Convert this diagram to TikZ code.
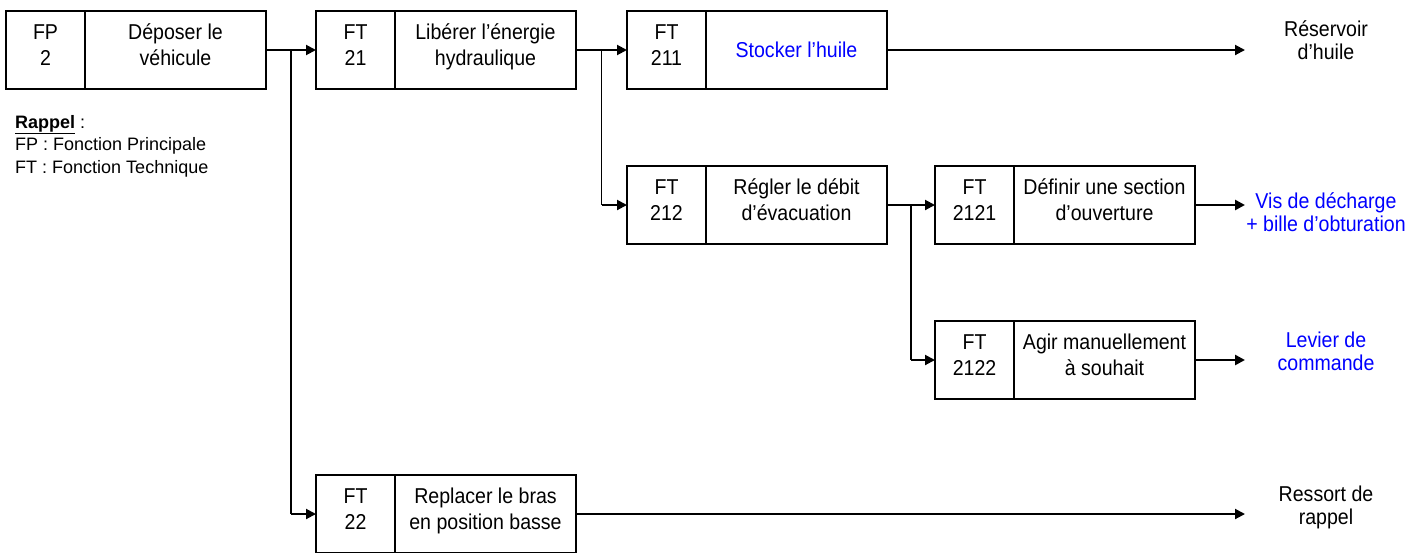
\documentclass[tikz,border=0pt]{standalone}
\usepackage{fontspec}
\setmainfont{Liberation Sans}
\usepackage{graphicx}
\usetikzlibrary{arrows.meta,calc}

% text block, centred lines, baseline on the first line, slightly condensed
\newcommand\celltext[1]{\scalebox{0.91}[1]{\begin{tabular}[t]{@{}c@{}}#1\end{tabular}}}

\definecolor{pureblue}{RGB}{0,0,255}

\tikzset{
  cell/.style={draw, line width=2pt, minimum height=78pt, inner sep=0pt,
               outer sep=0pt, anchor=north west},
  numcell/.style={cell, minimum width=79pt},
  txtcell/.style={cell, minimum width=181pt},
  boxfont/.style={font=\fontsize{21.5}{26}\selectfont, inner sep=0pt, anchor=base},
  lblfont/.style={font=\fontsize{21.5}{23}\selectfont, inner sep=0pt, anchor=base},
  feed/.style={line width=2pt, -{Triangle[length=10pt,width=10pt]}},
  branch/.style={line width=1.2pt},
  result/.style={line width=2pt, -{Triangle[length=10pt,width=10pt]}},
  resultbold/.style={line width=2.8pt, -{Triangle[length=10pt,width=10pt]}},
}

\begin{document}
\begin{tikzpicture}[x=1pt,y=-1pt]
\useasboundingbox (0,0) rectangle (1426,552);
\fill[white] (0,0) rectangle (1426,552);

% ---- function boxes: number cell + wording cell
\node[numcell] (fp2n)  at (6,11) {};
\node[txtcell] (fp2t)  at (85,11) {};
\node[numcell] (ft21n) at (316,11) {};
\node[txtcell] (ft21t) at (395,11) {};
\node[numcell] (ft211n) at (627,11) {};
\node[txtcell] (ft211t) at (706,11) {};
\node[numcell] (ft212n) at (627,166) {};
\node[txtcell] (ft212t) at (706,166) {};
\node[numcell] (ft2121n) at (935,166) {};
\node[txtcell] (ft2121t) at (1014,166) {};
\node[numcell] (ft2122n) at (935,321) {};
\node[txtcell] (ft2122t) at (1014,321) {};
\node[numcell] (ft22n) at (316,475) {};
\node[txtcell] (ft22t) at (395,475) {};

% ---- box wording
\node[boxfont] (fp2a)  at ([yshift=-28pt]fp2n.north) {\celltext{FP\\2}};
\node[boxfont] (fp2b)  at ([yshift=-28pt]fp2t.north) {\celltext{Déposer le\\véhicule}};
\node[boxfont] (ft21a) at ([yshift=-28pt]ft21n.north) {\celltext{FT\\21}};
\node[boxfont] (ft21b) at ([yshift=-28pt]ft21t.north) {\celltext{Libérer l’énergie\\hydraulique}};
\node[boxfont] (ft211a) at ([yshift=-28pt]ft211n.north) {\celltext{FT\\211}};
\node[boxfont, text=pureblue] (ft211b) at ([yshift=-7pt]ft211t.center) {\celltext{Stocker l’huile}};
\node[boxfont] (ft212a) at ([yshift=-28pt]ft212n.north) {\celltext{FT\\212}};
\node[boxfont] (ft212b) at ([yshift=-28pt]ft212t.north) {\celltext{Régler le débit\\d’évacuation}};
\node[boxfont] (ft2121a) at ([yshift=-28pt]ft2121n.north) {\celltext{FT\\2121}};
\node[boxfont] (ft2121b) at ([yshift=-28pt]ft2121t.north) {\celltext{Définir une section\\d’ouverture}};
\node[boxfont] (ft2122a) at ([yshift=-28pt]ft2122n.north) {\celltext{FT\\2122}};
\node[boxfont] (ft2122b) at ([yshift=-28pt]ft2122t.north) {\celltext{Agir manuellement\\à souhait}};
\node[boxfont] (ft22a) at ([yshift=-28pt]ft22n.north) {\celltext{FT\\22}};
\node[boxfont] (ft22b) at ([yshift=-28pt]ft22t.north) {\celltext{Replacer le bras\\en position basse}};

% ---- reminder
\node[anchor=base west, inner sep=0pt, font=\fontsize{18}{22.5}\selectfont] (rappel) at (15,128)
  {\begin{tabular}[t]{@{}l@{}}\underline{\textbf{Rappel}} :\\FP : Fonction Principale\\FT : Fonction Technique\end{tabular}};

% ---- branching points
\coordinate (j1) at ($(fp2t.east)!0.5!(ft21n.west)$);
\coordinate (j2) at ($(ft21t.east)!0.5!(ft211n.west)$);
\coordinate (j3) at ($(ft212t.east)!0.5!(ft2121n.west)$);

% ---- decomposition connectors
\draw[feed] (fp2t.east) -- (ft21n.west);
\draw[branch] (j1) -- (j1 |- ft22n.west);
\draw[feed] (j1 |- ft22n.west) -- (ft22n.west);

\draw[feed] (ft21t.east) -- (ft211n.west);
\draw[branch] (j2) -- (j2 |- ft212n.west);
\draw[feed] (j2 |- ft212n.west) -- (ft212n.west);

\draw[feed] (ft212t.east) -- (ft2121n.west);
\draw[branch] (j3) -- (j3 |- ft2122n.west);
\draw[feed] (j3 |- ft2122n.west) -- (ft2122n.west);

% ---- solutions
\coordinate (s211)  at (1245,50);
\coordinate (s2121) at (1245,205);
\coordinate (s2122) at (1245,360);
\coordinate (s22)   at (1245,514);

\draw[result] (ft211t.east) -- (s211);
\draw[resultbold] (ft2121t.east) -- (s2121);
\draw[resultbold] (ft2122t.east) -- (s2122);
\draw[result] (ft22t.east) -- (s22);

\node[lblfont] (l211)  at (1326,36)  {\celltext{Réservoir\\d’huile}};
\node[lblfont, text=pureblue] (l2121) at (1326,208) {\celltext{Vis de décharge\\+ bille d’obturation}};
\node[lblfont, text=pureblue] (l2122) at (1326,347) {\celltext{Levier de\\commande}};
\node[lblfont] (l22)   at (1326,501) {\celltext{Ressort de\\rappel}};
\end{tikzpicture}
\end{document}
